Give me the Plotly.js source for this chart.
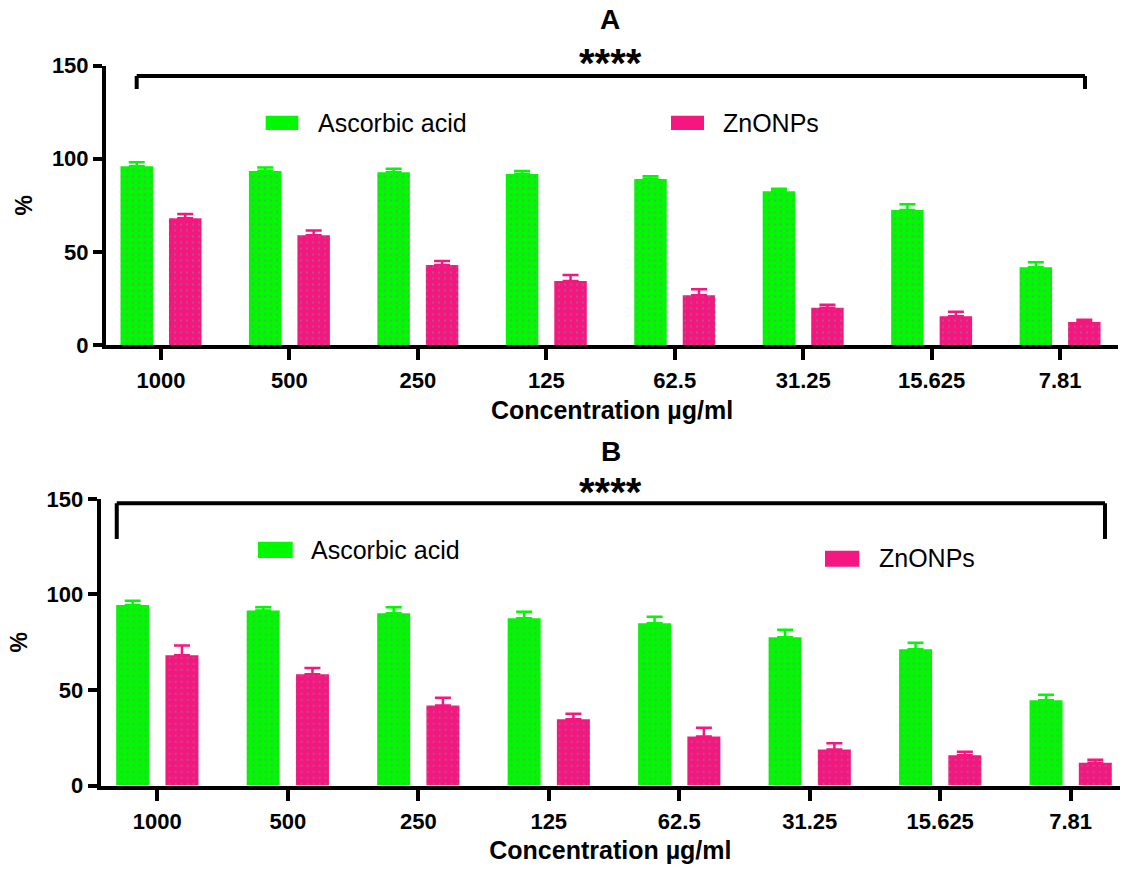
<!DOCTYPE html>
<html>
<head>
<meta charset="utf-8">
<script src="https://cdn.plot.ly/plotly-3.0.1.min.js"></script>
<style>html,body{margin:0;padding:0;background:#fff;}#chart{width:1125px;height:870px;}</style>
</head>
<body>
<div id="chart"></div>
<script>
// ---- data ----
const categories = ['1000', '500', '250', '125', '62.5', '31.25', '15.625', '7.81'];
const seriesNames = ['Ascorbic acid', 'ZnONPs'];

// Panel A
const ascorbicA    = [95.9, 93.4, 92.7, 91.8, 89.1, 82.5, 72.5, 41.7];
const ascorbicErrA = [2.2, 1.8, 1.9, 1.6, 1.5, 1.4, 3.0, 2.7];
const znoA         = [68.0, 58.9, 42.9, 34.4, 26.7, 20.0, 15.4, 12.3];
const znoErrA      = [2.3, 2.5, 2.2, 3.2, 3.2, 1.6, 2.5, 1.3];

// Panel B
const ascorbicB    = [94.5, 91.5, 90.1, 87.5, 84.9, 77.6, 71.3, 44.6];
const ascorbicErrB = [2.2, 1.7, 3.1, 3.4, 3.4, 3.9, 3.4, 2.9];
const znoB         = [68.1, 58.2, 41.8, 34.6, 25.7, 18.9, 15.8, 11.9];
const znoErrB      = [5.1, 3.3, 4.1, 3.0, 4.5, 3.2, 1.9, 1.6];

const yTicks = [0, 50, 100, 150];
const panelTitles = ['A', 'B'];
const sigLabel = '****';
const xTitle = 'Concentration µg/ml';
const yTitle = '%';

// ---- style ----
const GREEN = '#00f800';
const PINK = '#f51680';
const DOT_ON_GREEN = '#c94fd6';
const DOT_ON_PINK = '#3fae8c';
const FONT = 'Liberation Sans, Arial, sans-serif';

function barTrace(y, err, name, color, dot, xa, ya) {
  return {
    type: 'bar', x: categories, y: y, name: name, xaxis: xa, yaxis: ya,
    showlegend: false,
    marker: {
      color: color,
      line: {width: 0},
      pattern: {shape: '.', fgcolor: dot, bgcolor: color, size: 6, solidity: 0.06, fillmode: 'replace'}
    },
    error_y: {type: 'data', symmetric: false, array: err, arrayminus: err.map(() => 0),
              color: color, thickness: 2.5, width: 8},
    hoverinfo: 'x+y+name'
  };
}

const data = [
  barTrace(ascorbicA, ascorbicErrA, seriesNames[0], GREEN, DOT_ON_GREEN, 'x', 'y'),
  barTrace(znoA, znoErrA, seriesNames[1], PINK, DOT_ON_PINK, 'x', 'y'),
  barTrace(ascorbicB, ascorbicErrB, seriesNames[0], GREEN, DOT_ON_GREEN, 'x2', 'y2'),
  barTrace(znoB, znoErrB, seriesNames[1], PINK, DOT_ON_PINK, 'x2', 'y2')
];

const W = 1125, H = 870;
const px = v => v / W;
const py = v => 1 - v / H;

function xAxis(domain, range, anchor) {
  return {
    domain: domain, range: range, anchor: anchor, type: 'category',
    showline: true, linewidth: 4, linecolor: '#000', mirror: false,
    ticks: 'outside', ticklen: 11, tickwidth: 4, tickcolor: '#000',
    showgrid: false, zeroline: false, fixedrange: true,
    tickfont: {family: FONT, size: 22, color: '#000', weight: 'bold'},
    ticklabelstandoff: 2,
    title: {text: xTitle, font: {family: FONT, size: 25, color: '#000', weight: 'bold'}, standoff: 10}
  };
}
function yAxis(domain, anchor) {
  return {
    domain: domain, range: [0, 150], anchor: anchor,
    showline: true, linewidth: 4, linecolor: '#000',
    ticks: 'outside', ticklen: 9, tickwidth: 4, tickcolor: '#000',
    tickvals: yTicks, ticktext: yTicks.map(String),
    showgrid: false, zeroline: false, fixedrange: true,
    tickfont: {family: FONT, size: 22, color: '#000', weight: 'bold'},
    title: {text: yTitle, font: {family: FONT, size: 23, color: '#000', weight: 'bold'}, standoff: 14}
  };
}

function bracket(xa, ya, x0, x1, yTop, yBot) {
  const base = {type: 'line', xref: xa, yref: ya, line: {color: '#000', width: 4}};
  return [
    Object.assign({}, base, {x0: x0, x1: x0, y0: yBot, y1: yTop}),
    Object.assign({}, base, {x0: x0, x1: x1, y0: yTop, y1: yTop}),
    Object.assign({}, base, {x0: x1, x1: x1, y0: yTop, y1: yBot})
  ];
}

function swatch(x0, x1, y0, y1, color) {
  return {type: 'rect', xref: 'paper', yref: 'paper', x0: px(x0), x1: px(x1), y0: py(y1), y1: py(y0),
          fillcolor: color, line: {width: 0}};
}
function legendText(text, x, y) {
  return {text: text, xref: 'paper', yref: 'paper', x: px(x), y: py(y), xanchor: 'left', yanchor: 'middle',
          showarrow: false, font: {family: FONT, size: 25, color: '#000'}};
}

const shapes = []
  .concat(bracket('x', 'y', -0.189, 7.194, 144.4, 137.4))
  .concat(bracket('x2', 'y2', -0.311, 7.263, 147.7, 129.0))
  .concat([
    swatch(265.7, 298.3, 115.7, 130, GREEN),
    swatch(671, 704, 115.7, 130, PINK),
    swatch(258, 292.7, 541.7, 558, GREEN),
    swatch(825, 859.3, 550.7, 566.7, PINK)
  ]);

const annotations = [
  {text: panelTitles[0], xref: 'paper', yref: 'paper', x: px(610), y: py(20), xanchor: 'center', yanchor: 'middle',
   showarrow: false, font: {family: FONT, size: 28, color: '#000', weight: 'bold'}},
  {text: panelTitles[1], xref: 'paper', yref: 'paper', x: px(611), y: py(452), xanchor: 'center', yanchor: 'middle',
   showarrow: false, font: {family: FONT, size: 28, color: '#000', weight: 'bold'}},
  {text: sigLabel, xref: 'x', yref: 'y', x: 3.5, y: 144.4, xanchor: 'center', yanchor: 'bottom', yshift: -11,
   showarrow: false, font: {family: FONT, size: 40, color: '#000', weight: 'bold'}},
  {text: sigLabel, xref: 'x2', yref: 'y2', x: 3.47, y: 147.7, xanchor: 'center', yanchor: 'bottom', yshift: -13,
   showarrow: false, font: {family: FONT, size: 40, color: '#000', weight: 'bold'}},
  legendText(seriesNames[0], 316, 123),
  legendText(seriesNames[1], 721, 123),
  legendText(seriesNames[0], 309, 550),
  legendText(seriesNames[1], 877, 558)
];

const layout = {
  width: W, height: H,
  margin: {l: 0, r: 0, t: 0, b: 0},
  paper_bgcolor: '#fff', plot_bgcolor: '#fff',
  barmode: 'group', bargap: 0.245, bargroupgap: 0.33,
  showlegend: false,
  font: {family: FONT, color: '#000'},
  xaxis: xAxis([px(106), px(1118)], [-0.428, 7.451], 'y'),
  yaxis: yAxis([py(345), py(65.5)], 'x'),
  xaxis2: xAxis([px(100.7), px(1120)], [-0.434, 7.378], 'y2'),
  yaxis2: yAxis([py(785.5), py(498.8)], 'x2'),
  shapes: shapes,
  annotations: annotations
};

Plotly.newPlot('chart', data, layout, {displayModeBar: false, staticPlot: true});
</script>
</body>
</html>
